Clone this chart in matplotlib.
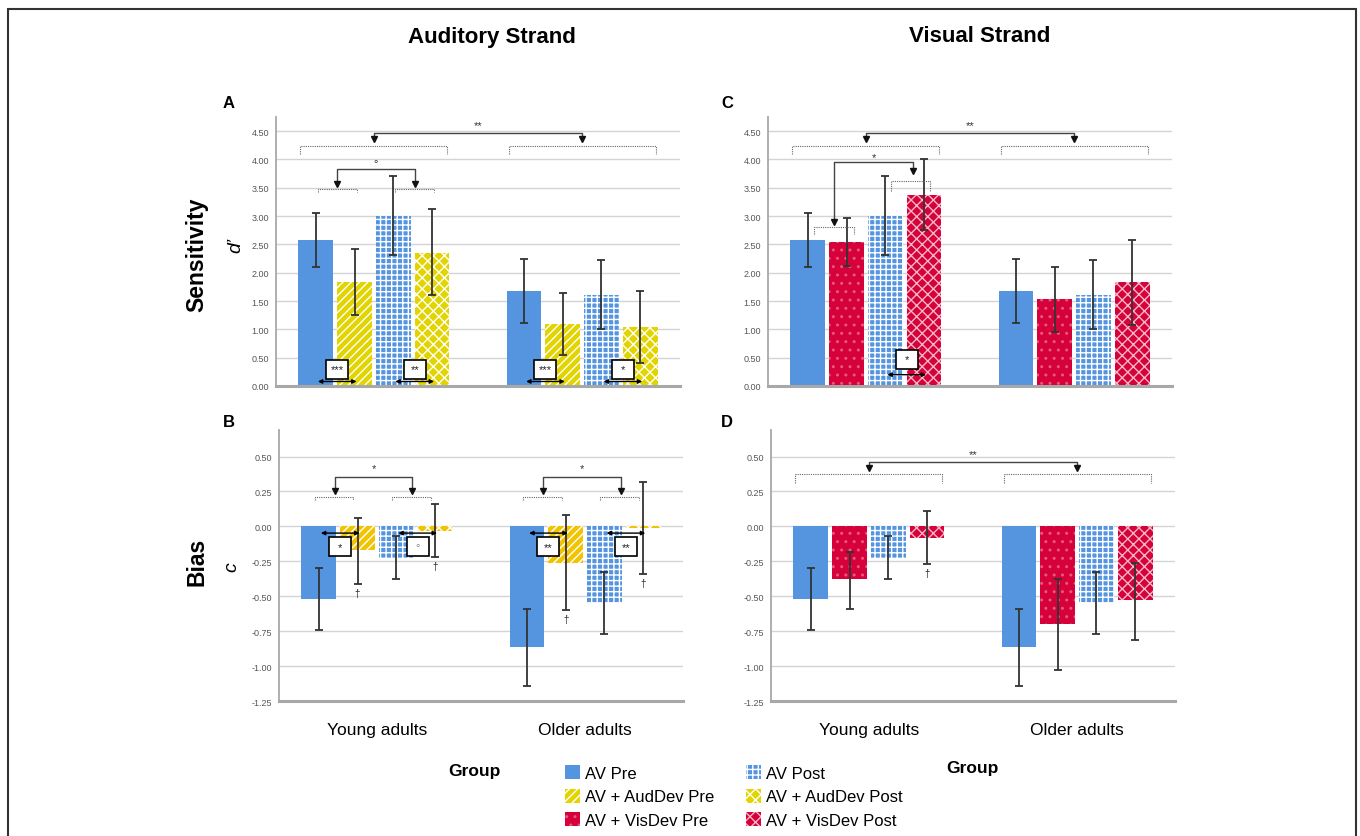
import numpy as np
import matplotlib
matplotlib.use("Agg")
import matplotlib.pyplot as plt
from matplotlib.patches import Patch, Rectangle

plt.rcParams["font.family"] = ["Liberation Sans", "DejaVu Sans"]
plt.rcParams["hatch.linewidth"] = 1.0

FIG_W, FIG_H = 1360, 837

groups = ["Young adults", "Older adults"]

# sensitivity (d') means with lower / upper CI bounds, [young, older]
d_av_pre, d_av_pre_lo, d_av_pre_hi = [2.58, 1.68], [2.11, 1.11], [3.06, 2.25]
d_aud_pre, d_aud_pre_lo, d_aud_pre_hi = [1.83, 1.09], [1.25, 0.54], [2.42, 1.64]
d_av_post, d_av_post_lo, d_av_post_hi = [3.01, 1.61], [2.32, 1.00], [3.70, 2.22]
d_aud_post, d_aud_post_lo, d_aud_post_hi = [2.35, 1.04], [1.61, 0.40], [3.12, 1.68]
d_vis_pre, d_vis_pre_lo, d_vis_pre_hi = [2.54, 1.54], [2.12, 0.96], [2.97, 2.11]
d_vis_post, d_vis_post_lo, d_vis_post_hi = [3.38, 1.83], [2.76, 1.08], [4.01, 2.58]

# bias (c)
c_av_pre, c_av_pre_lo, c_av_pre_hi = [-0.52, -0.86], [-0.74, -1.14], [-0.30, -0.59]
c_aud_pre, c_aud_pre_lo, c_aud_pre_hi = [-0.17, -0.26], [-0.41, -0.60], [0.06, 0.08]
c_av_post, c_av_post_lo, c_av_post_hi = [-0.23, -0.55], [-0.38, -0.77], [-0.07, -0.33]
c_aud_post, c_aud_post_lo, c_aud_post_hi = [-0.03, -0.01], [-0.22, -0.34], [0.16, 0.32]
c_vis_pre, c_vis_pre_lo, c_vis_pre_hi = [-0.38, -0.70], [-0.59, -1.03], [-0.18, -0.38]
c_vis_post, c_vis_post_lo, c_vis_post_hi = [-0.08, -0.53], [-0.27, -0.81], [0.11, -0.26]

d_ticks = [0.0, 0.5, 1.0, 1.5, 2.0, 2.5, 3.0, 3.5, 4.0, 4.5]
c_ticks = [-1.25, -1.0, -0.75, -0.5, -0.25, 0.0, 0.25, 0.5]

BLUE = "#5595e0"
YELLOW = "#e2d400"
YELLOW_B = "#f2c300"
RED = "#d6003a"

STYLE = {
    "AV Pre": dict(fc=BLUE, hc=BLUE, hatch=None),
    "AV + AudDev Pre": dict(fc=YELLOW, hc="white", hatch="////"),
    "AV + VisDev Pre": dict(fc=RED, hc="#e8587a", hatch=".."),
    "AV Post": dict(fc=BLUE, hc="white", hatch="+++"),
    "AV + AudDev Post": dict(fc=YELLOW, hc="white", hatch="xxx"),
    "AV + VisDev Post": dict(fc=RED, hc="#f5b8c6", hatch="xxx"),
}

STEP, WIDTH = 0.186, 0.167
OFFS = np.array([-1.5, -0.5, 0.5, 1.5]) * STEP
X = np.arange(len(groups))

fig = plt.figure(figsize=(FIG_W / 100, FIG_H / 100), dpi=100)


def axes_px(left, top, right, bottom):
    return fig.add_axes([left / FIG_W, 1 - bottom / FIG_H,
                         (right - left) / FIG_W, (bottom - top) / FIG_H])


def style_axes(ax, ylim, ticks, xlabels):
    ax.set_xlim(-0.47, 1.47)
    ax.set_ylim(*ylim)
    ax.set_yticks(ticks)
    ax.set_yticklabels([f"{t:.2f}" for t in ticks])
    ax.yaxis.grid(True, color="#d4d4d4", lw=1.0)
    ax.set_axisbelow(True)
    for s in ("top", "right"):
        ax.spines[s].set_visible(False)
    ax.spines["left"].set_color("#a8a8a8")
    ax.spines["left"].set_linewidth(1.3)
    ax.spines["bottom"].set_color("#a8a8a8")
    ax.spines["bottom"].set_linewidth(2.2)
    ax.tick_params(axis="y", length=0, pad=5, labelsize=6.5, labelcolor="#555555")
    ax.set_xticks(X)
    if xlabels:
        ax.set_xticklabels(groups, fontsize=12.5)
        ax.tick_params(axis="x", length=0, pad=15)
    else:
        ax.set_xticklabels([])
        ax.tick_params(axis="x", length=0)


def draw_bars(ax, series, yellow=YELLOW):
    for k, (name, vals, lo, hi) in enumerate(series):
        st = STYLE[name]
        fc = yellow if st["fc"] == YELLOW else st["fc"]
        xs = X + OFFS[k]
        ax.bar(xs, vals, WIDTH, color=fc, edgecolor=st["hc"], hatch=st["hatch"],
               linewidth=0, zorder=2)
        vals = np.asarray(vals)
        ax.errorbar(xs, vals, yerr=[vals - np.asarray(lo), np.asarray(hi) - vals],
                    fmt="none", ecolor="#333333", elinewidth=1.3, capsize=3,
                    capthick=1.3, zorder=3)


def px_size(ax, wpx, hpx):
    bb = ax.get_position()
    xr = np.diff(ax.get_xlim())[0]
    yr = np.diff(ax.get_ylim())[0]
    return wpx * xr / (bb.width * FIG_W), hpx * yr / (bb.height * FIG_H)


def bracket(ax, x1, x2, y, drop):
    ax.plot([x1, x1, x2, x2], [y - drop, y, y, y - drop], ls=(0, (1, 1)),
            lw=0.8, color="#666666", zorder=4)


def link(ax, x1, x2, y, tip1, tip2, label, label_y):
    ax.plot([x1, x1, x2, x2], [tip1, y, y, tip2], color="#444444", lw=1.0, zorder=4)
    ax.plot([x1, x2], [tip1, tip2], ls="none", marker="v", ms=4.5,
            color="#111111", zorder=5)
    ax.text((x1 + x2) / 2, label_y, label, ha="center", va="center",
            fontsize=8, color="#333333", zorder=5)


def sig_box(ax, i, j, g, label, box_y, arrow_y):
    w, h = px_size(ax, 22, 19)
    xc = g + (OFFS[i] + OFFS[j]) / 2 + 0.01
    ax.annotate("", xy=(g + OFFS[j] + 0.01, arrow_y), xytext=(g + OFFS[i] + 0.01, arrow_y),
                arrowprops=dict(arrowstyle="<|-|>", color="black", lw=1.0,
                                mutation_scale=6, shrinkA=0, shrinkB=0), zorder=6)
    ax.add_patch(Rectangle((xc - w / 2, box_y - h / 2), w, h, fc="white",
                           ec="black", lw=1.2, zorder=7))
    col = "#888888" if label == "°" else "#222222"
    ax.text(xc, box_y, label, ha="center", va="center", fontsize=8, color=col, zorder=8)


def dagger(ax, g, k, lo):
    ax.text(g + OFFS[k], lo - 0.065, "†", ha="center", va="center", fontsize=7,
            color="#222222", zorder=5)


ax_a = axes_px(276, 118, 680, 387)
ax_b = axes_px(279, 431, 683, 702)
ax_c = axes_px(768, 118, 1172, 387)
ax_d = axes_px(771, 431, 1175, 702)

style_axes(ax_a, (0, 4.75), d_ticks, False)
style_axes(ax_c, (0, 4.75), d_ticks, False)
style_axes(ax_b, (-1.25, 0.69), c_ticks, True)
style_axes(ax_d, (-1.25, 0.69), c_ticks, True)

draw_bars(ax_a, [("AV Pre", d_av_pre, d_av_pre_lo, d_av_pre_hi),
                 ("AV + AudDev Pre", d_aud_pre, d_aud_pre_lo, d_aud_pre_hi),
                 ("AV Post", d_av_post, d_av_post_lo, d_av_post_hi),
                 ("AV + AudDev Post", d_aud_post, d_aud_post_lo, d_aud_post_hi)])
draw_bars(ax_b, [("AV Pre", c_av_pre, c_av_pre_lo, c_av_pre_hi),
                 ("AV + AudDev Pre", c_aud_pre, c_aud_pre_lo, c_aud_pre_hi),
                 ("AV Post", c_av_post, c_av_post_lo, c_av_post_hi),
                 ("AV + AudDev Post", c_aud_post, c_aud_post_lo, c_aud_post_hi)],
          yellow=YELLOW_B)
draw_bars(ax_c, [("AV Pre", d_av_pre, d_av_pre_lo, d_av_pre_hi),
                 ("AV + VisDev Pre", d_vis_pre, d_vis_pre_lo, d_vis_pre_hi),
                 ("AV Post", d_av_post, d_av_post_lo, d_av_post_hi),
                 ("AV + VisDev Post", d_vis_post, d_vis_post_lo, d_vis_post_hi)])
draw_bars(ax_d, [("AV Pre", c_av_pre, c_av_pre_lo, c_av_pre_hi),
                 ("AV + VisDev Pre", c_vis_pre, c_vis_pre_lo, c_vis_pre_hi),
                 ("AV Post", c_av_post, c_av_post_lo, c_av_post_hi),
                 ("AV + VisDev Post", c_vis_post, c_vis_post_lo, c_vis_post_hi)])

# group-level comparisons (top of each panel)
edge = 1.5 * STEP + WIDTH / 2 - 0.01
for ax, yb, yl, tip, lab_y, drop in [(ax_a, 4.23, 4.46, 4.36, 4.61, 0.14),
                                      (ax_c, 4.23, 4.46, 4.36, 4.61, 0.14),
                                      (ax_d, 0.372, 0.463, 0.418, 0.52, 0.06)]:
    for g in X:
        bracket(ax, g - edge, g + edge, yb, drop)
    link(ax, 0, 1, yl, tip, tip, "**", lab_y)

# pre vs post within condition pairs, auditory strand
bracket(ax_a, OFFS[0] + 0.01, OFFS[1] + 0.01, 3.47, 0.05)
bracket(ax_a, OFFS[2] + 0.01, OFFS[3] + 0.01, 3.47, 0.05)
link(ax_a, (OFFS[0] + OFFS[1]) / 2 + 0.01, (OFFS[2] + OFFS[3]) / 2 + 0.01,
     3.83, 3.56, 3.56, "°", 3.94)

for g in X:
    bracket(ax_b, g + OFFS[0] - 0.02, g + OFFS[1] - 0.02, 0.212, 0.02)
    bracket(ax_b, g + OFFS[2] - 0.02, g + OFFS[3] - 0.02, 0.212, 0.02)
    link(ax_b, g + (OFFS[0] + OFFS[1]) / 2 - 0.015, g + (OFFS[2] + OFFS[3]) / 2 - 0.015,
         0.355, 0.255, 0.255, "*", 0.415)

# visual strand, young adults
bracket(ax_c, OFFS[0] + 0.03, OFFS[1] + 0.035, 2.81, 0.13)
bracket(ax_c, OFFS[2] + 0.03, OFFS[3] + 0.03, 3.62, 0.17)
link(ax_c, (OFFS[0] + OFFS[1]) / 2 + 0.033, (OFFS[2] + OFFS[3]) / 2 + 0.04,
     3.95, 2.9, 3.79, "*", 4.05)

# modality differences within each session
sig_box(ax_a, 0, 1, 0, "***", 0.30, 0.08)
sig_box(ax_a, 2, 3, 0, "**", 0.30, 0.08)
sig_box(ax_a, 0, 1, 1, "***", 0.30, 0.08)
sig_box(ax_a, 2, 3, 1, "*", 0.30, 0.08)
sig_box(ax_b, 0, 1, 0, "*", -0.147, -0.048)
sig_box(ax_b, 2, 3, 0, "°", -0.147, -0.048)
sig_box(ax_b, 0, 1, 1, "**", -0.147, -0.048)
sig_box(ax_b, 2, 3, 1, "**", -0.147, -0.048)
sig_box(ax_c, 2, 3, 0, "*", 0.47, 0.20)

for g in X:
    dagger(ax_b, g, 1, c_aud_pre_lo[g])
    dagger(ax_b, g, 3, c_aud_post_lo[g])
dagger(ax_d, 0, 3, c_vis_post_lo[0])


def ftext(x, y, s, **kw):
    fig.text(x / FIG_W, 1 - y / FIG_H, s, ha="center", va="center", **kw)


ftext(492, 37, "Auditory Strand", fontsize=16, fontweight="bold")
ftext(980, 37, "Visual Strand", fontsize=16, fontweight="bold")
ftext(229, 104, "A", fontsize=12, fontweight="bold")
ftext(229, 423, "B", fontsize=12, fontweight="bold")
ftext(727, 104, "C", fontsize=12, fontweight="bold")
ftext(727, 423, "D", fontsize=12, fontweight="bold")
ftext(197, 255, "Sensitivity", fontsize=16.5, fontweight="bold", rotation=90)
ftext(197, 562, "Bias", fontsize=16.5, fontweight="bold", rotation=90)
ftext(236, 245, "d’", fontsize=14, style="italic", rotation=90)
ftext(232, 567, "c", fontsize=14, style="italic", rotation=90)
ftext(474, 772, "Group", fontsize=12.5, fontweight="bold")
ftext(972, 769, "Group", fontsize=12.5, fontweight="bold")

legend_order = ["AV Pre", "AV + AudDev Pre", "AV + VisDev Pre",
                "AV Post", "AV + AudDev Post", "AV + VisDev Post"]
handles = [Patch(facecolor=STYLE[n]["fc"], edgecolor=STYLE[n]["hc"],
                 hatch=STYLE[n]["hatch"], linewidth=0, label=n) for n in legend_order]
fig.legend(handles=handles, ncol=2, loc="upper left", frameon=False,
           bbox_to_anchor=(565 / FIG_W, 1 - 766 / FIG_H), bbox_transform=fig.transFigure,
           borderaxespad=0, borderpad=0, fontsize=12, handlelength=0.9,
           handleheight=0.9, handletextpad=0.3, columnspacing=1.9, labelspacing=0.48)

# outer frame
fig.patches.append(Rectangle((8 / FIG_W, -0.02), 1348 / FIG_W, 1 - 10 / FIG_H + 0.02,
                             transform=fig.transFigure, fill=False, ec="#333333",
                             lw=1.5, zorder=10))

fig.savefig("out.png", dpi=100)
